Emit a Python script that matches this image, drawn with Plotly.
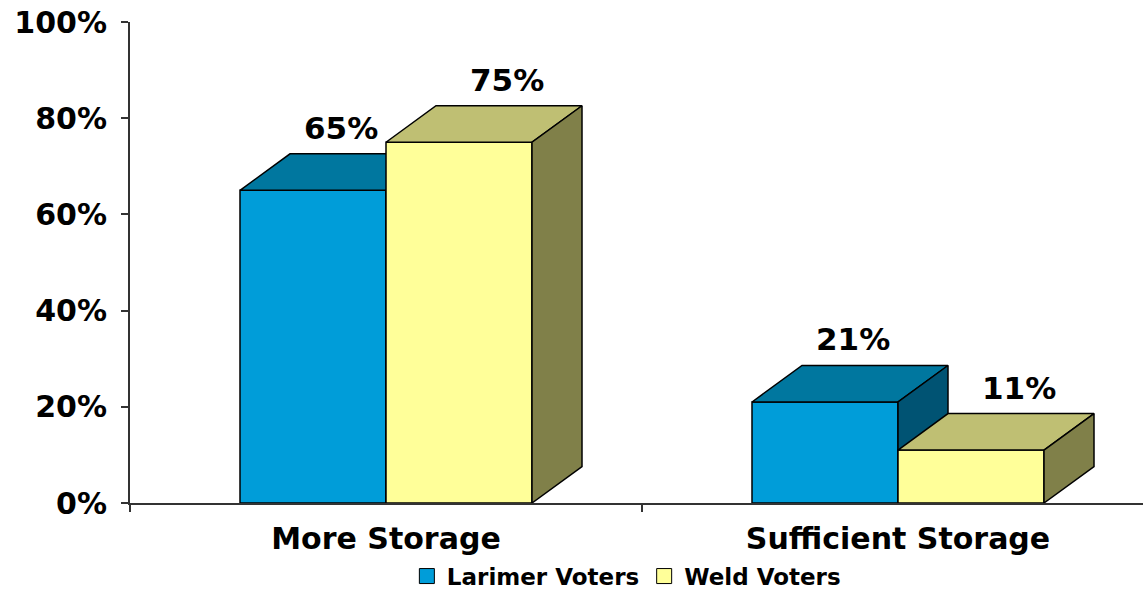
import plotly.graph_objects as go

# data
categories = ["More Storage", "Sufficient Storage"]
series_names = ["Larimer Voters", "Weld Voters"]
larimer = [65, 21]
weld = [75, 11]

# colours (front, top, side)
blue = ("#009DD9", "#00779F", "#005373")
yellow = ("#FFFF99", "#BFBF73", "#808049")

# geometry in axis units (one category = 1 x unit, y in percent)
px_per_x = 512.0
px_per_y = 4.81
bar_w = 146 / px_per_x
dx = 50 / px_per_x
dy = 36.5 / px_per_y

fig = go.Figure()


def add_box(x0, x1, v, cols):
    faces = [
        # front
        ([x0, x1, x1, x0, x0], [0, 0, v, v, 0], cols[0]),
        # top
        ([x0, x1, x1 + dx, x0 + dx, x0], [v, v, v + dy, v + dy, v], cols[1]),
        # side
        ([x1, x1 + dx, x1 + dx, x1, x1], [0, dy, v + dy, v, 0], cols[2]),
    ]
    for xs, ys, c in faces:
        fig.add_trace(go.Scatter(x=xs, y=ys, fill="toself", fillcolor=c,
                                 mode="lines", line=dict(color="black", width=1.5),
                                 showlegend=False, hoverinfo="skip"))


annots = []
for i, cat in enumerate(categories):
    c = i + 0.5
    add_box(c - bar_w, c, larimer[i], blue)
    add_box(c, c + bar_w, weld[i], yellow)
    for val, xc, shift in [(larimer[i], c - bar_w / 2, 28), (weld[i], c + bar_w / 2, 48)]:
        annots.append(dict(x=xc, y=val + dy, text=f"{val}%", showarrow=False,
                           xanchor="center", yanchor="bottom", xshift=shift, yshift=6,
                           font=dict(family="DejaVu Sans", size=31, color="black", weight="bold")))

# legend entries
for name, cols in zip(series_names, [blue, yellow]):
    fig.add_trace(go.Scatter(x=[None], y=[None], mode="markers", name=name,
                             marker=dict(symbol="square", size=15, color=cols[0],
                                         line=dict(color="black", width=1))))

fig.update_layout(
    width=1143, height=597,
    margin=dict(l=130, r=0, t=22, b=94, autoexpand=False),
    plot_bgcolor="white", paper_bgcolor="white",
    font=dict(family="DejaVu Sans", color="black", weight="bold"),
    annotations=annots,
    legend=dict(orientation="h", x=0.49, xanchor="center", yref="container",
                y=0.035, yanchor="middle", bgcolor="rgba(0,0,0,0)",
                font=dict(size=23, weight="bold"), itemwidth=30, tracegroupgap=0),
    showlegend=True,
)
fig.update_xaxes(range=[0, 1013 / px_per_x], tickvals=[0.5, 1.5], ticktext=categories,
                 ticks="", showgrid=False, zeroline=False, showline=True,
                 linecolor="#333333", linewidth=2, ticklabelstandoff=8,
                 tickfont=dict(size=30, weight="bold"), automargin=False,
                 ticklabeloverflow="allow",
                 minor=dict(tickvals=[0, 1, 2], ticks="outside", ticklen=7,
                            tickcolor="#333333", tickwidth=1.5, showgrid=False))
fig.update_yaxes(range=[0, 100], tickvals=[0, 20, 40, 60, 80, 100],
                 ticktext=["0%", "20%", "40%", "60%", "80%", "100%"],
                 ticks="outside", ticklen=7, tickcolor="#333333", tickwidth=1.5,
                 showgrid=False, zeroline=False, showline=True, linecolor="#333333",
                 linewidth=2, ticklabelstandoff=8, automargin=False,
                 ticklabeloverflow="allow",
                 tickfont=dict(size=30, weight="bold"))

# drop the default page margin so the figure fills the window
fig.write_html("out.html", config={"displayModeBar": False},
               post_script="document.body.style.margin = '0';")
